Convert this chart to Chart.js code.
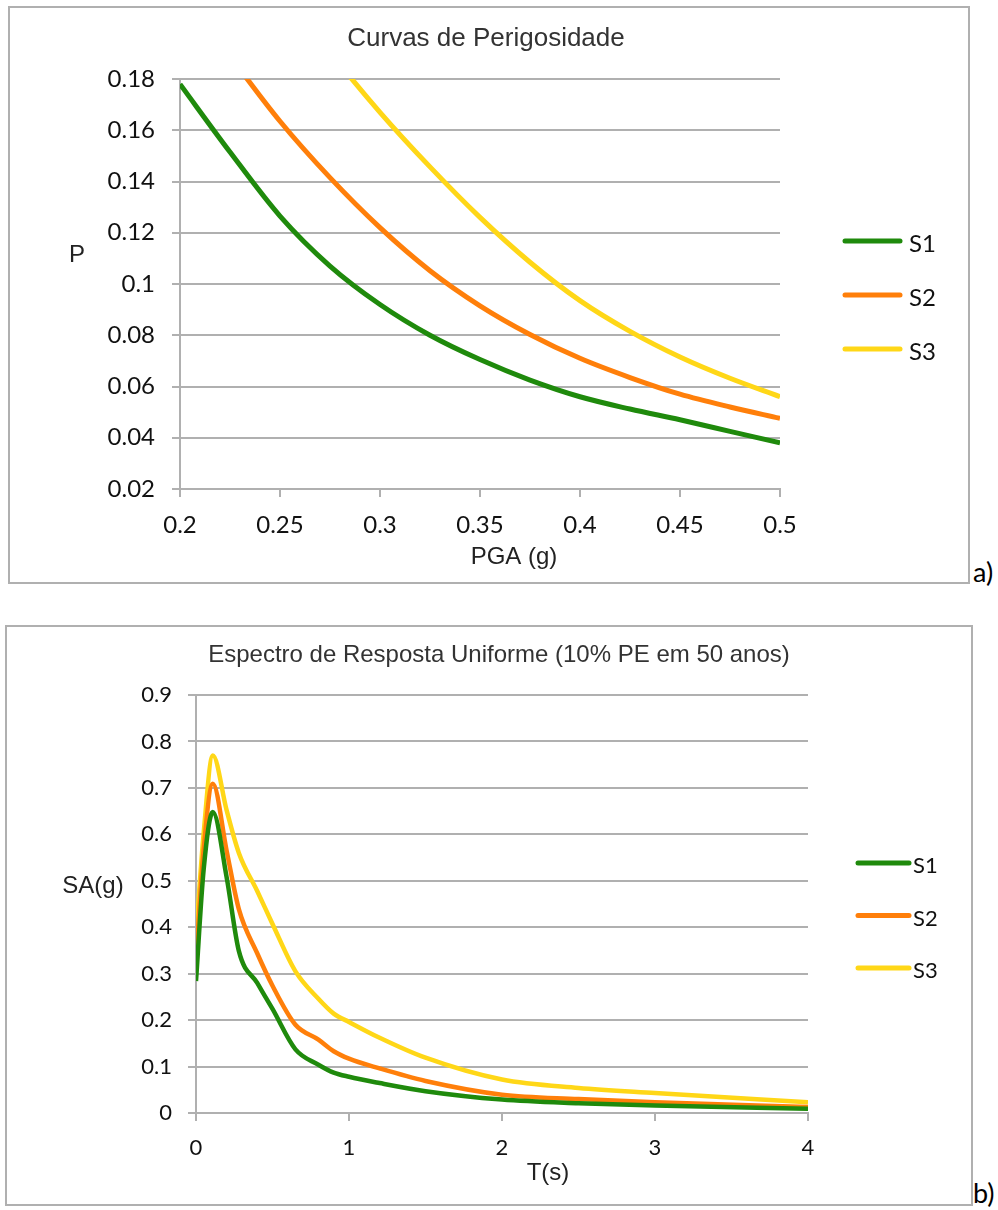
<!DOCTYPE html>
<html>
<head>
<meta charset="utf-8">
<script src="https://cdn.jsdelivr.net/npm/chart.js@4/dist/chart.umd.min.js"></script>
<style>
  body { margin: 0; background: #fff; width: 998px; height: 1210px; position: relative; overflow: hidden; }
  .box { position: absolute; border: 2px solid #b0b0b0; background: #fff; }
  .box canvas { position: absolute; left: 0; top: 0; }
  .tag { position: absolute; font-family: Lato, "Open Sans", sans-serif; font-size: 27px; color: #000; }
</style>
</head>
<body>
<div class="box" id="boxA" style="left:8px; top:6px; width:958px; height:574px;">
  <canvas id="hazard" width="958" height="574"></canvas>
</div>
<div class="tag" style="left:973px; top:555px;">a)</div>

<div class="box" id="boxB" style="left:5px; top:625px; width:964px; height:577px;">
  <canvas id="spectrum" width="964" height="577"></canvas>
</div>
<div class="tag" style="left:973px; top:1176px;">b)</div>

<script>
// Curvas de Perigosidade
var pga = [0.2, 0.225, 0.25, 0.275, 0.3, 0.325, 0.35, 0.375, 0.4, 0.425, 0.45, 0.475, 0.5];
var p_s1 = [0.178, 0.1515, 0.1265, 0.107, 0.092, 0.080, 0.0705, 0.0625, 0.056, 0.0512, 0.047, 0.0425, 0.038];
var p_s2 = [0.216, 0.189, 0.1635, 0.1415, 0.122, 0.1052, 0.0915, 0.0803, 0.071, 0.0635, 0.057, 0.052, 0.0476];
var p_s3 = [0.275, 0.245, 0.216, 0.1905, 0.167, 0.1457, 0.126, 0.1085, 0.0935, 0.0815, 0.0715, 0.0632, 0.056];
var pgaTicks = [0.2, 0.25, 0.3, 0.35, 0.4, 0.45, 0.5];
var pTicks = [0.02, 0.04, 0.06, 0.08, 0.1, 0.12, 0.14, 0.16, 0.18];

// Espectro de Resposta Uniforme
var period = [0, 0.05, 0.11, 0.2, 0.28, 0.4, 0.5, 0.65, 0.8, 0.9, 1, 1.2, 1.5, 2, 2.5, 3, 4];
var sa_s1 = [0.284, 0.524, 0.648, 0.508, 0.349, 0.28, 0.224, 0.137, 0.104, 0.087, 0.078, 0.0645, 0.047, 0.029, 0.021, 0.016, 0.009];
var sa_s2 = [0.327, 0.567, 0.709, 0.565, 0.439, 0.344, 0.274, 0.19, 0.158, 0.133, 0.117, 0.096, 0.069, 0.0395, 0.030, 0.023, 0.013];
var sa_s3 = [0.381, 0.602, 0.770, 0.652, 0.56, 0.478, 0.407, 0.305, 0.246, 0.214, 0.196, 0.162, 0.119, 0.072, 0.054, 0.043, 0.023];
var tTicks = [0, 1, 2, 3, 4];
var saTicks = [0, 0.1, 0.2, 0.3, 0.4, 0.5, 0.6, 0.7, 0.8, 0.9];

var seriesNames = ["S1", "S2", "S3"];
var seriesColors = ["#1f8a0c", "#ff7f0a", "#ffd717"];

var GRID = "#b0b0b0";
var TICKFONT = "Lato, 'Open Sans', sans-serif";
var ARIAL = "'Liberation Sans', Arial, sans-serif";

function pts(xs, ys) {
  return xs.map(function (x, i) { return { x: x, y: ys[i] }; });
}
function fmt(v) { return String(+(+v).toFixed(2)); }
function fixTicks(list) {
  return function (scale) { scale.ticks = list.map(function (v) { return { value: v }; }); };
}

// titles, axis titles and legend drawn on the canvas
var decor = {
  id: "decor",
  afterDraw: function (chart, args, o) {
    var ctx = chart.ctx;
    ctx.save();
    ctx.textAlign = "center";
    ctx.textBaseline = "middle";
    ctx.fillStyle = "#333";
    ctx.font = o.titleSize + "px " + ARIAL;
    ctx.fillText(o.title, o.titleX, o.titleY);
    ctx.fillStyle = "#222";
    ctx.font = o.axisSize + "px " + ARIAL;
    ctx.fillText(o.xTitle, o.xTitleX, o.xTitleY);
    ctx.fillText(o.yTitle, o.yTitleX, o.yTitleY);
    ctx.font = o.legSize + "px " + TICKFONT;
    ctx.textAlign = "left";
    chart.data.datasets.forEach(function (ds, i) {
      var y = o.legY + i * o.legGap;
      ctx.strokeStyle = ds.borderColor;
      ctx.lineWidth = 5;
      ctx.lineCap = "round";
      ctx.beginPath();
      ctx.moveTo(o.legX, y);
      ctx.lineTo(o.legX + o.legLen, y);
      ctx.stroke();
      ctx.fillStyle = "#111";
      ctx.fillText(ds.label, o.legX + o.legLen + o.legTextGap, y + 3);
    });
    ctx.restore();
  }
};

function makeChart(id, xs, ys, cfg) {
  var datasets = ys.map(function (arr, i) {
    return {
      label: seriesNames[i],
      data: pts(xs, arr),
      borderColor: seriesColors[i],
      backgroundColor: seriesColors[i],
      borderWidth: cfg.lineWidth,
      pointRadius: 0,
      cubicInterpolationMode: "monotone",
      fill: false
    };
  });
  var ctx = document.getElementById(id).getContext("2d");
  return new Chart(ctx, {
    type: "line",
    data: { datasets: datasets },
    plugins: [decor],
    options: {
      responsive: false,
      animation: false,
      events: [],
      layout: { padding: { left: 0, top: cfg.padTop, right: cfg.padRight, bottom: 0 } },
      plugins: {
        legend: { display: false },
        title: { display: false },
        tooltip: { enabled: false },
        decor: cfg.decor
      },
      scales: {
        x: {
          type: "linear",
          min: cfg.xMin, max: cfg.xMax,
          afterBuildTicks: fixTicks(cfg.xTicks),
          afterFit: function (s) { s.height = cfg.xHeight; },
          grid: { drawOnChartArea: false, drawTicks: true, tickLength: 8, color: GRID, lineWidth: 2 },
          border: { display: true, color: GRID, width: 2 },
          ticks: { font: { family: TICKFONT, size: cfg.tickSize }, color: "#111", padding: cfg.xPad, maxRotation: 0, callback: fmt }
        },
        y: {
          min: cfg.yMin, max: cfg.yMax,
          afterBuildTicks: fixTicks(cfg.yTicks),
          afterFit: function (s) { s.width = cfg.yWidth; },
          grid: { drawTicks: true, tickLength: 8, color: GRID, lineWidth: 2 },
          border: { display: true, color: GRID, width: 2 },
          ticks: { font: { family: TICKFONT, size: cfg.tickSize }, color: "#111", padding: cfg.yPad, callback: fmt }
        }
      }
    }
  });
}

makeChart("hazard", pga, [p_s1, p_s2, p_s3], {
  lineWidth: 5, tickSize: 24,
  padTop: 71, padRight: 188, xHeight: 93, yWidth: 170, xPad: 14, yPad: 17,
  xMin: 0.2, xMax: 0.5, yMin: 0.02, yMax: 0.18, xTicks: pgaTicks, yTicks: pTicks,
  decor: {
    title: "Curvas de Perigosidade", titleSize: 26, titleX: 476, titleY: 31,
    xTitle: "PGA (g)", xTitleX: 504, xTitleY: 549,
    yTitle: "P", yTitleX: 67, yTitleY: 247, axisSize: 24,
    legX: 835, legLen: 55, legTextGap: 9, legY: 233, legGap: 54, legSize: 24
  }
});

makeChart("spectrum", period, [sa_s1, sa_s2, sa_s3], {
  lineWidth: 4.5, tickSize: 22,
  padTop: 68, padRight: 163, xHeight: 91, yWidth: 189, xPad: 14, yPad: 16,
  xMin: 0, xMax: 4, yMin: 0, yMax: 0.9, xTicks: tTicks, yTicks: saTicks,
  decor: {
    title: "Espectro de Resposta Uniforme (10% PE em 50 anos)", titleSize: 24, titleX: 492, titleY: 28,
    xTitle: "T(s)", xTitleX: 541, xTitleY: 546,
    yTitle: "SA(g)", yTitleX: 86, yTitleY: 259, axisSize: 24,
    legX: 851, legLen: 51, legTextGap: 4, legY: 236, legGap: 52.5, legSize: 22
  }
});
</script>
</body>
</html>
